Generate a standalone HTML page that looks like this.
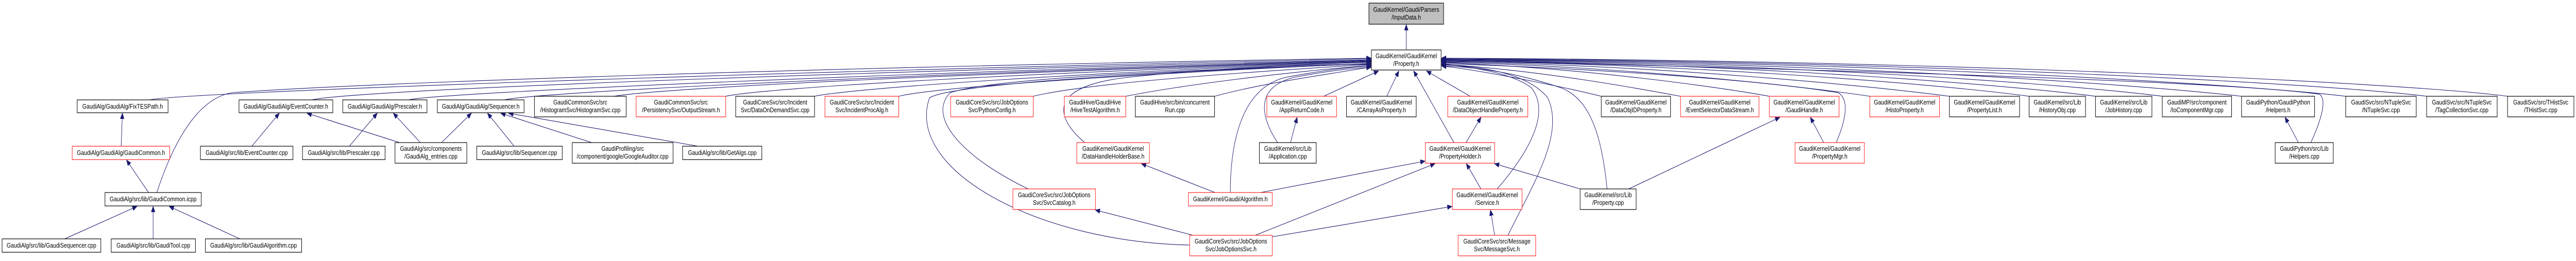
<!DOCTYPE html>
<html><head><meta charset="utf-8"><style>
html,body{margin:0;padding:0;background:#fff;width:100%;height:507px;overflow:hidden;}
svg{display:block;width:100vw;height:507px;}
text{font-family:"Liberation Sans",Arial,sans-serif;font-size:13px;fill:#000;text-anchor:middle;}
.b{fill:#fff;stroke:#000;stroke-width:1.2;}
.r{fill:#fff;stroke:#ff2020;stroke-width:1.2;}
.g{fill:#bfbfbf;stroke:#000;stroke-width:1.2;}
path,line{fill:none;stroke:#191970;stroke-width:1.1;}
</style></head><body>
<svg viewBox="0 0 6208 507" preserveAspectRatio="none" xmlns="http://www.w3.org/2000/svg">
<defs><marker id="a" markerUnits="userSpaceOnUse" markerWidth="12" markerHeight="10" refX="11" refY="4.5" orient="auto"><path d="M0,0 L11,4.5 L0,9 Z" style="fill:#191970;stroke:#191970;stroke-width:1"/></marker></defs>
<g marker-end="url(#a)">
<line x1="3389" y1="97" x2="3389" y2="48"/>
<path d="M361,194 C430,180 1800,140 3304,114"/>
<path d="M378,374 C420,270 480,190 560,180 C900,160 2000,130 3304,113"/>
<path d="M752,194 C850,175 2000,140 3304,116"/>
<path d="M985,194 C1050,180 2200,140 3304,117"/>
<path d="M1216,194 C1300,178 2300,140 3304,118"/>
<path d="M1480,187 C1600,170 2400,140 3304,119"/>
<path d="M1749,187 C1850,170 2500,140 3304,120"/>
<path d="M1963,187 C2050,172 2600,140 3304,121"/>
<path d="M2166,187 C2250,170 2700,145 3304,123"/>
<path d="M2490,187 C2600,165 2900,145 3304,125"/>
<path d="M2478,367 C2330,310 2230,230 2290,180 C2400,150 2900,135 3304,124"/>
<path d="M2867,476 C2500,470 2180,330 2240,190 C2300,160 2900,135 3304,124"/>
<path d="M2713,187 C2850,165 3100,140 3304,127"/>
<path d="M2614,277 C2560,240 2500,170 2720,150 C2900,135 3100,125 3304,125"/>
<path d="M2927,187 C3050,160 3200,145 3304,130"/>
<path d="M2965,374 C2965,280 2990,170 3100,150 C3200,135 3260,130 3304,128"/>
<path d="M3079,277 C3040,230 3020,170 3120,150 C3200,138 3260,132 3304,131"/>
<line x1="3190" y1="187" x2="3322" y2="138"/>
<line x1="3342" y1="187" x2="3371" y2="138"/>
<line x1="3504" y1="277" x2="3407" y2="138"/>
<line x1="3543" y1="187" x2="3438" y2="138"/>
<path d="M3608,367 C3680,300 3740,220 3690,170 C3640,140 3540,130 3474,124"/>
<path d="M3634,457 C3700,350 3770,260 3730,190 C3680,140 3560,128 3474,126"/>
<path d="M3873,367 C3860,260 3830,190 3760,170 C3650,140 3550,130 3474,128"/>
<path d="M3859,187 C3800,175 3600,140 3474,128"/>
<path d="M4050,187 C3950,172 3700,135 3474,125"/>
<path d="M4264,187 C4150,170 3800,130 3474,122"/>
<path d="M4425,277 C4445,240 4460,195 4430,180 C4200,150 3700,128 3474,124"/>
<path d="M4506,187 C4350,168 3900,128 3474,121"/>
<path d="M4698,187 C4520,168 4000,126 3474,120"/>
<path d="M4890,187 C4700,166 4100,124 3474,119"/>
<path d="M5050,187 C4850,166 4200,122 3474,118"/>
<path d="M5211,187 C5000,165 4300,121 3474,117"/>
<path d="M5402,187 C5150,164 4400,120 3474,116"/>
<path d="M5569,277 C5590,240 5610,195 5590,183 C5300,150 3800,125 3474,116"/>
<path d="M5653,187 C5400,163 4500,119 3474,115"/>
<path d="M5848,187 C5600,162 4600,118 3474,114"/>
<path d="M6043,187 C5800,161 4700,117 3474,113"/>
<line x1="292" y1="284" x2="295" y2="220"/>
<line x1="358" y1="374" x2="305" y2="311"/>
<line x1="156" y1="464" x2="330" y2="401"/>
<line x1="369" y1="464" x2="369" y2="401"/>
<line x1="578" y1="464" x2="408" y2="401"/>
<line x1="607" y1="284" x2="673" y2="220"/>
<line x1="963" y1="277" x2="740" y2="220"/>
<line x1="842" y1="284" x2="909" y2="220"/>
<line x1="1013" y1="277" x2="948" y2="220"/>
<line x1="1064" y1="277" x2="1136" y2="220"/>
<line x1="1239" y1="284" x2="1175" y2="220"/>
<line x1="1426" y1="277" x2="1207" y2="220"/>
<line x1="1682" y1="284" x2="1226" y2="220"/>
<line x1="2928" y1="374" x2="2751" y2="318"/>
<line x1="2875" y1="457" x2="2640" y2="408"/>
<line x1="3110" y1="277" x2="3126" y2="228"/>
<line x1="3533" y1="277" x2="3569" y2="228"/>
<line x1="3038" y1="374" x2="3434" y2="313"/>
<line x1="3025" y1="457" x2="3458" y2="318"/>
<line x1="3066" y1="460" x2="3499" y2="401"/>
<line x1="3569" y1="367" x2="3534" y2="318"/>
<line x1="3808" y1="367" x2="3602" y2="318"/>
<line x1="3602" y1="457" x2="3592" y2="408"/>
<line x1="3925" y1="367" x2="4289" y2="228"/>
<line x1="4395" y1="277" x2="4363" y2="228"/>
<line x1="5539" y1="277" x2="5507" y2="228"/>
</g>

<rect class="g" x="3299" y="6" width="180" height="41"/><text x="3389" y="23">GaudiKernel/Gaudi/Parsers</text><text x="3389" y="38">/InputData.h</text>
<rect class="b" x="3305" y="97" width="168" height="39"/><text x="3389" y="113">GaudiKernel/GaudiKernel</text><text x="3389" y="128">/Property.h</text>

<rect class="b" x="186" y="194" width="219" height="25"/><text x="295.5" y="211">GaudiAlg/GaudiAlg/FixTESPath.h</text>
<rect class="b" x="576" y="194" width="226" height="25"/><text x="689" y="211">GaudiAlg/GaudiAlg/EventCounter.h</text>
<rect class="b" x="826" y="194" width="203" height="25"/><text x="927.5" y="211">GaudiAlg/GaudiAlg/Prescaler.h</text>
<rect class="b" x="1054" y="194" width="209" height="25"/><text x="1158.5" y="211">GaudiAlg/GaudiAlg/Sequencer.h</text>
<rect class="b" x="1288" y="187" width="221" height="40"/><text x="1398.5" y="203">GaudiCommonSvc/src</text><text x="1398.5" y="218">/HistogramSvc/HistogramSvc.cpp</text>
<rect class="r" x="1533" y="187" width="216" height="40"/><text x="1641" y="203">GaudiCommonSvc/src</text><text x="1641" y="218">/PersistencySvc/OutputStream.h</text>
<rect class="b" x="1773" y="187" width="190" height="40"/><text x="1868" y="203">GaudiCoreSvc/src/Incident</text><text x="1868" y="218">Svc/DataOnDemandSvc.cpp</text>
<rect class="r" x="1988" y="187" width="178" height="40"/><text x="2077" y="203">GaudiCoreSvc/src/Incident</text><text x="2077" y="218">Svc/IncidentProcAlg.h</text>
<rect class="r" x="2291" y="187" width="199" height="40"/><text x="2390.5" y="203">GaudiCoreSvc/src/JobOptions</text><text x="2390.5" y="218">Svc/PythonConfig.h</text>
<rect class="r" x="2565" y="187" width="148" height="40"/><text x="2639" y="203">GaudiHive/GaudiHive</text><text x="2639" y="218">/HiveTestAlgorithm.h</text>
<rect class="b" x="2736" y="187" width="191" height="40"/><text x="2831.5" y="203">GaudiHive/src/bin/concurrent</text><text x="2831.5" y="218">Run.cpp</text>
<rect class="r" x="3053" y="187" width="168" height="40"/><text x="3137" y="203">GaudiKernel/GaudiKernel</text><text x="3137" y="218">/AppReturnCode.h</text>
<rect class="b" x="3245" y="187" width="168" height="40"/><text x="3329" y="203">GaudiKernel/GaudiKernel</text><text x="3329" y="218">/CArrayAsProperty.h</text>
<rect class="r" x="3489" y="187" width="193" height="40"/><text x="3585.5" y="203">GaudiKernel/GaudiKernel</text><text x="3585.5" y="218">/DataObjectHandleProperty.h</text>
<rect class="b" x="3859" y="187" width="167" height="40"/><text x="3942.5" y="203">GaudiKernel/GaudiKernel</text><text x="3942.5" y="218">/DataObjIDProperty.h</text>
<rect class="r" x="4050" y="187" width="189" height="40"/><text x="4144.5" y="203">GaudiKernel/GaudiKernel</text><text x="4144.5" y="218">/EventSelectorDataStream.h</text>
<rect class="r" x="4264" y="187" width="168" height="40"/><text x="4348" y="203">GaudiKernel/GaudiKernel</text><text x="4348" y="218">/GaudiHandle.h</text>
<rect class="r" x="4506" y="187" width="168" height="40"/><text x="4590" y="203">GaudiKernel/GaudiKernel</text><text x="4590" y="218">/HistoProperty.h</text>
<rect class="b" x="4698" y="187" width="169" height="40"/><text x="4782.5" y="203">GaudiKernel/GaudiKernel</text><text x="4782.5" y="218">/PropertyList.h</text>
<rect class="b" x="4890" y="187" width="136" height="40"/><text x="4958" y="203">GaudiKernel/src/Lib</text><text x="4958" y="218">/HistoryObj.cpp</text>
<rect class="b" x="5050" y="187" width="136" height="40"/><text x="5118" y="203">GaudiKernel/src/Lib</text><text x="5118" y="218">/JobHistory.cpp</text>
<rect class="b" x="5211" y="187" width="167" height="40"/><text x="5294.5" y="203">GaudiMP/src/component</text><text x="5294.5" y="218">/IoComponentMgr.cpp</text>
<rect class="b" x="5402" y="187" width="176" height="40"/><text x="5490" y="203">GaudiPython/GaudiPython</text><text x="5490" y="218">/Helpers.h</text>
<rect class="b" x="5653" y="187" width="170" height="40"/><text x="5738" y="203">GaudiSvc/src/NTupleSvc</text><text x="5738" y="218">/NTupleSvc.cpp</text>
<rect class="b" x="5848" y="187" width="170" height="40"/><text x="5933" y="203">GaudiSvc/src/NTupleSvc</text><text x="5933" y="218">/TagCollectionSvc.cpp</text>
<rect class="b" x="6043" y="187" width="160" height="40"/><text x="6123" y="203">GaudiSvc/src/THistSvc</text><text x="6123" y="218">/THistSvc.cpp</text>

<rect class="r" x="174" y="284" width="235" height="26"/><text x="291.5" y="301">GaudiAlg/GaudiAlg/GaudiCommon.h</text>
<rect class="b" x="483" y="284" width="223" height="26"/><text x="594.5" y="301">GaudiAlg/src/lib/EventCounter.cpp</text>
<rect class="b" x="729" y="284" width="199" height="26"/><text x="828.5" y="301">GaudiAlg/src/lib/Prescaler.cpp</text>
<rect class="b" x="952" y="277" width="173" height="40"/><text x="1038.5" y="293">GaudiAlg/src/components</text><text x="1038.5" y="308">/GaudiAlg_entries.cpp</text>
<rect class="b" x="1149" y="284" width="206" height="26"/><text x="1252" y="301">GaudiAlg/src/lib/Sequencer.cpp</text>
<rect class="b" x="1379" y="277" width="243" height="40"/><text x="1500.5" y="293">GaudiProfiling/src</text><text x="1500.5" y="308">/component/google/GoogleAuditor.cpp</text>
<rect class="b" x="1645" y="284" width="191" height="26"/><text x="1740.5" y="301">GaudiAlg/src/lib/GetAlgs.cpp</text>
<rect class="r" x="2595" y="277" width="175" height="40"/><text x="2682.5" y="293">GaudiKernel/GaudiKernel</text><text x="2682.5" y="308">/DataHandleHolderBase.h</text>
<rect class="b" x="3035" y="277" width="137" height="40"/><text x="3103.5" y="293">GaudiKernel/src/Lib</text><text x="3103.5" y="308">/Application.cpp</text>
<rect class="r" x="3435" y="277" width="167" height="40"/><text x="3518.5" y="293">GaudiKernel/GaudiKernel</text><text x="3518.5" y="308">/PropertyHolder.h</text>
<rect class="r" x="4326" y="277" width="167" height="40"/><text x="4409.5" y="293">GaudiKernel/GaudiKernel</text><text x="4409.5" y="308">/PropertyMgr.h</text>
<rect class="b" x="5483" y="277" width="140" height="40"/><text x="5553" y="293">GaudiPython/src/Lib</text><text x="5553" y="308">/Helpers.cpp</text>

<rect class="b" x="253" y="374" width="232" height="26"/><text x="369" y="391">GaudiAlg/src/lib/GaudiCommon.icpp</text>
<rect class="r" x="2441" y="367" width="199" height="40"/><text x="2540.5" y="383">GaudiCoreSvc/src/JobOptions</text><text x="2540.5" y="398">Svc/SvcCatalog.h</text>
<rect class="r" x="2864" y="374" width="202" height="26"/><text x="2965" y="391">GaudiKernel/Gaudi/Algorithm.h</text>
<rect class="r" x="3500" y="367" width="168" height="40"/><text x="3584" y="383">GaudiKernel/GaudiKernel</text><text x="3584" y="398">/Service.h</text>
<rect class="b" x="3808" y="367" width="135" height="40"/><text x="3875.5" y="383">GaudiKernel/src/Lib</text><text x="3875.5" y="398">/Property.cpp</text>

<rect class="b" x="5" y="464" width="238" height="26"/><text x="124" y="481">GaudiAlg/src/lib/GaudiSequencer.cpp</text>
<rect class="b" x="268" y="464" width="203" height="26"/><text x="369.5" y="481">GaudiAlg/src/lib/GaudiTool.cpp</text>
<rect class="b" x="495" y="464" width="232" height="26"/><text x="611" y="481">GaudiAlg/src/lib/GaudiAlgorithm.cpp</text>
<rect class="r" x="2867" y="457" width="199" height="40"/><text x="2966.5" y="473">GaudiCoreSvc/src/JobOptions</text><text x="2966.5" y="488">Svc/JobOptionsSvc.h</text>
<rect class="r" x="3514" y="457" width="187" height="40"/><text x="3607.5" y="473">GaudiCoreSvc/src/Message</text><text x="3607.5" y="488">Svc/MessageSvc.h</text>
</svg>
</body></html>
